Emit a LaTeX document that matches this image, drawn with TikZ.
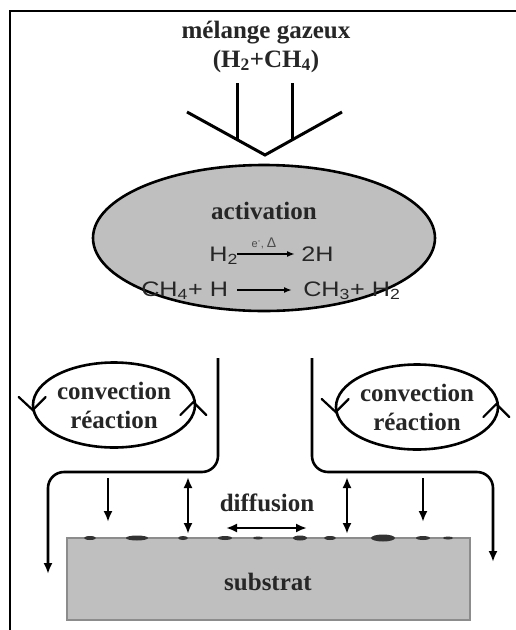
\documentclass[tikz,border=0pt]{standalone}
\usepackage{fontspec}
\setmainfont{Liberation Serif}
\newfontfamily\sansf{Liberation Sans}
\usetikzlibrary{arrows.meta,shapes.geometric}
\definecolor{subgray}{HTML}{BFBFBF}
\newcommand{\sx}[1]{\scalebox{1.2}[1]{#1}}
\begin{document}
\begin{tikzpicture}[x=1pt,y=-1pt, line width=2.6pt,
  lbl/.style={font=\fontsize{25}{29}\selectfont\bfseries, text=black!85, inner sep=0pt},
  chem/.style={font=\sansf\fontsize{21}{24}\selectfont, text=black!85, inner sep=0pt},
  tip/.style={-{Latex[length=11pt,width=9pt]}},
  dtip/.style={{Latex[length=11pt,width=9pt]}-{Latex[length=11pt,width=9pt]}},
  smalltip/.style={line width=1.6pt,-{Latex[length=8pt,width=6pt]}},
  head/.style={line width=2.2pt, line cap=round},
  convbox/.style={draw, ellipse, minimum width=162pt, minimum height=85pt, lbl, align=center},
  deposit/.style={fill=black!80}]
\useasboundingbox (0,0) rectangle (516,630);
\fill[white] (0,0) rectangle (516,630);
% frame
\coordinate (fbl) at (10,631);
\coordinate (ftl) at (10,11);
\coordinate (ftr) at (517,11);
\draw (fbl) -- (ftl) -- (ftr);
% title
\node[lbl] (title) at (266,33) {mélange gazeux};
\node[lbl] (mix) at (266,61) {(H\textsubscript{2}+CH\textsubscript{4})};
% funnel
\coordinate (vl) at (187,112);
\coordinate (vb) at (265,155);
\coordinate (vr) at (342,112);
\coordinate (il1) at (237,83);
\coordinate (il2) at (237,140);
\coordinate (ir1) at (292,83);
\coordinate (ir2) at (292,140);
\draw[line width=3pt] (vl) -- (vb) -- (vr);
\draw[line width=3pt] (il1) -- (il2);
\draw[line width=3pt] (ir1) -- (ir2);
% activation ellipse
\node[draw, ellipse, fill=subgray, minimum width=342pt, minimum height=146pt, line width=2.6pt] (act) at (264,238) {};
\node[lbl] (actlbl) at (264,211) {activation};
\node[chem, anchor=base west] (h2) at (208,261) {\sx{H\textsubscript{2}}};
\node[chem, anchor=base west] (twoh) at (300,261) {\sx{2H}};
\coordinate (a1s) at (237,254);
\coordinate (a1e) at (295,254);
\draw[smalltip] (a1s) -- (a1e);
\node[font=\sansf\fontsize{11}{12}\selectfont, text=black!70, inner sep=0pt] (cat) at (264,243) {e\textsuperscript{-}, \fontsize{14}{14}\selectfont Δ};
\node[chem, anchor=base west] (r2l) at (140,296) {\sx{CH\textsubscript{4}+ H}};
\node[chem, anchor=base west] (r2r) at (302,296) {\sx{CH\textsubscript{3}+ H\textsubscript{2}}};
\coordinate (a2s) at (237,290);
\coordinate (a2e) at (292,290);
\draw[smalltip] (a2s) -- (a2e);
% convection ellipses
\node[convbox] (convL) at (114,405) {convection\\réaction};
\node[convbox] (convR) at (417,407) {convection\\réaction};
\draw[head] (convL.west) ++(-13,-8) -- ++(14,13) -- ++(13,-13);
\draw[head] (convL.east) ++(-16,10) -- ++(13,-13) -- ++(13,13);
\draw[head] (convR.west) ++(-13,-8) -- ++(14,13) -- ++(13,-13);
\draw[head] (convR.east) ++(-16,10) -- ++(13,-13) -- ++(13,13);
% flow paths
\coordinate (fl0) at (218,358);
\coordinate (fl1) at (218,472);
\coordinate (fl2) at (48,472);
\coordinate (fl3) at (48,574);
\draw[tip, rounded corners=16pt] (fl0) -- (fl1) -- (fl2) -- (fl3);
\coordinate (fr0) at (312,358);
\coordinate (fr1) at (312,472);
\coordinate (fr2) at (493,472);
\coordinate (fr3) at (493,562);
\draw[tip, rounded corners=16pt] (fr0) -- (fr1) -- (fr2) -- (fr3);
% substrate
\node[draw=black!45, fill=subgray, minimum width=403pt, minimum height=82pt, line width=1.5pt, inner sep=0pt] (sub) at (268.5,579) {};
\node[lbl] (sublbl) at (268,582) {substrat};
% deposits
\foreach \px/\rx/\ry in {90/6/2, 137/11/2.5, 183/5/2, 225/7/2, 258/5/1.5, 300/7/2.5, 330/6/2, 383/12/3.5, 423/7/2, 448/5/1.5}
  \fill[deposit] (\px,538) ellipse [x radius=\rx pt, y radius=\ry pt];
% diffusion arrows
\coordinate (d1a) at (108,478); \coordinate (d1b) at (108,522);
\coordinate (d2a) at (188,477); \coordinate (d2b) at (188,534);
\coordinate (d3a) at (347,477); \coordinate (d3b) at (347,534);
\coordinate (d4a) at (423,478); \coordinate (d4b) at (423,522);
\coordinate (hd1) at (226,528); \coordinate (hd2) at (307,528);
\draw[tip] (d1a) -- (d1b);
\draw[dtip] (d2a) -- (d2b);
\draw[dtip] (d3a) -- (d3b);
\draw[tip] (d4a) -- (d4b);
\draw[dtip] (hd1) -- (hd2);
\node[lbl] (diff) at (267,503) {diffusion};
\end{tikzpicture}
\end{document}
